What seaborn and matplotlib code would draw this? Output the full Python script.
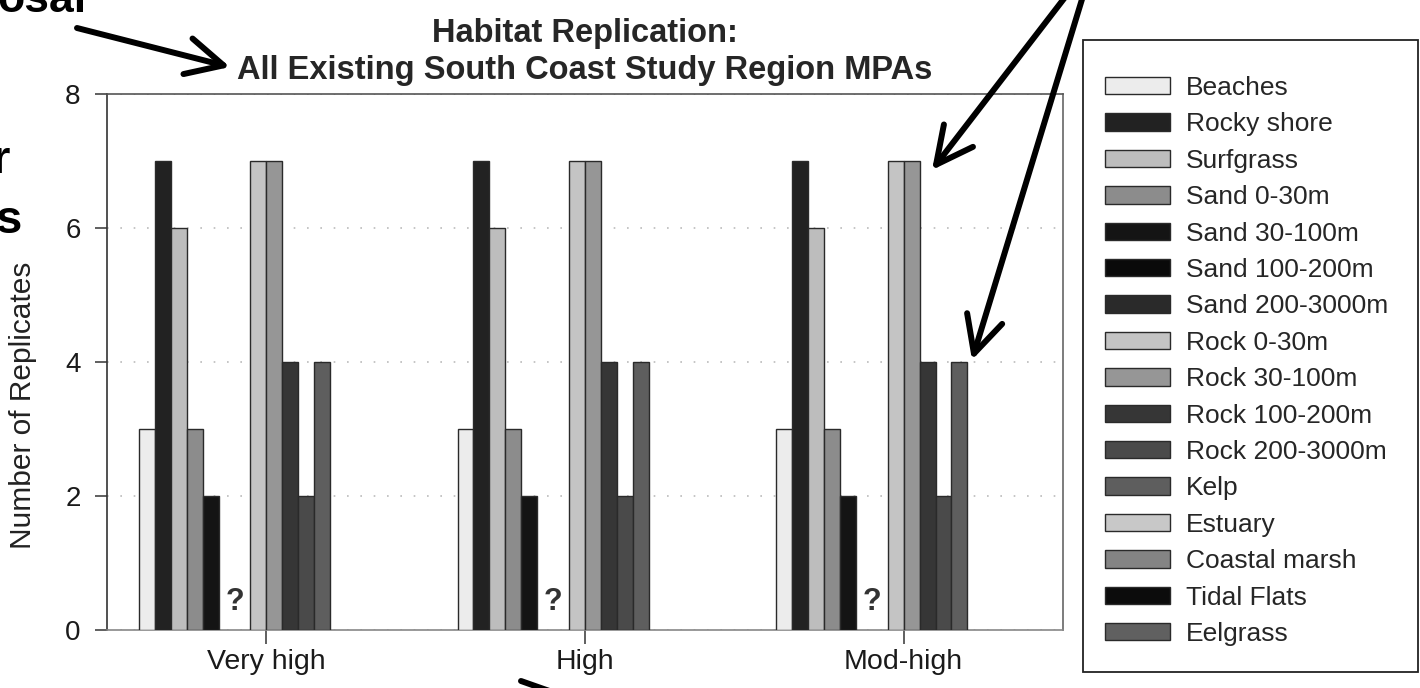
import numpy as np
import pandas as pd
import matplotlib
matplotlib.use("Agg")
import matplotlib.pyplot as plt
import seaborn as sns
from matplotlib.patches import FancyArrowPatch, Rectangle, ArrowStyle
from matplotlib.transforms import IdentityTransform

# -------------------------
# data
# -------------------------
categories = ["Very high", "High", "Mod-high"]
habitats = ["Beaches", "Rocky shore", "Surfgrass", "Sand 0-30m", "Sand 30-100m",
            "Sand 100-200m", "Sand 200-3000m", "Rock 0-30m", "Rock 30-100m",
            "Rock 100-200m", "Rock 200-3000m", "Kelp", "Estuary", "Coastal marsh",
            "Tidal Flats", "Eelgrass"]
replicates_very_high = [3, 7, 6, 3, 2, 0, 0, 7, 7, 4, 2, 4, 0, 0, 0, 0]
replicates_high = [3, 7, 6, 3, 2, 0, 0, 7, 7, 4, 2, 4, 0, 0, 0, 0]
replicates_mod_high = [3, 7, 6, 3, 2, 0, 0, 7, 7, 4, 2, 4, 0, 0, 0, 0]
unknown_habitats = ["Sand 100-200m", "Sand 200-3000m"]  # drawn as "?"
habitat_colors = ["#ececec", "#222222", "#bdbdbd", "#8c8c8c", "#141414",
                  "#0a0a0a", "#2a2a2a", "#c4c4c4", "#969696", "#363636",
                  "#4a4a4a", "#5e5e5e", "#c8c8c8", "#848484", "#0c0c0c", "#606060"]

df = pd.DataFrame({
    "category": np.repeat(categories, len(habitats)),
    "habitat": habitats * len(categories),
    "replicates": replicates_very_high + replicates_high + replicates_mod_high,
})

# -------------------------
# figure setup
# -------------------------
sns.set_style("white")
plt.rcParams["font.family"] = ["Liberation Sans", "DejaVu Sans"]

W, H = 1420, 688
fig = plt.figure(figsize=(W / 100, H / 100), dpi=100)
ax = fig.add_axes([107 / W, 58 / H, 956 / W, 536 / H])

sns.barplot(data=df, x="category", y="replicates", hue="habitat",
            order=categories, hue_order=habitats, palette=habitat_colors,
            saturation=1, width=0.8, errorbar=None, edgecolor="#2a2a2a",
            linewidth=1.0, ax=ax, zorder=3)

# zero bars should not draw an outline on the baseline
for p in ax.patches:
    if p.get_height() == 0:
        p.set_linewidth(0)

leg = ax.get_legend()
handles = leg.legend_handles
labels = [t.get_text() for t in leg.get_texts()]
leg.remove()

ax.set_xlim(-0.5, 2.5)
ax.set_ylim(0, 8)
ax.set_yticks([0, 2, 4, 6, 8])
ax.set_xlabel("")
ax.set_ylabel("Number of Replicates", fontsize=21.5, color="#222222")
ax.yaxis.set_label_coords(-0.073, 0.42)
ax.yaxis.grid(True, color="#bbbbbb", linestyle=(0, (1, 7)), linewidth=1.2, zorder=0)
ax.set_axisbelow(True)
ax.tick_params(axis="y", direction="out", length=9, width=1.2, color="#444444",
               labelsize=20, pad=10, left=True, labelcolor="#1a1a1a")
ax.tick_params(axis="x", direction="out", length=10, width=1.2, color="#444444",
               labelsize=20.5, pad=4, bottom=True, labelcolor="#1a1a1a")
for side, col in [("left", "#333333"), ("bottom", "#888888"),
                  ("top", "#555555"), ("right", "#666666")]:
    ax.spines[side].set_visible(True)
    ax.spines[side].set_color(col)
    ax.spines[side].set_linewidth(1.2)

# "?" over the habitats with unknown values
step = 0.8 / len(habitats)
offs = [(habitats.index(h) - (len(habitats) - 1) / 2) * step for h in unknown_habitats]
for i, cat in enumerate(categories):
    ax.text(i + np.mean(offs), 0.42, "?", ha="center", va="center",
            fontsize=22, fontweight="bold", color="#333333", zorder=4)

ax.set_title("Habitat Replication:\nAll Existing South Coast Study Region MPAs",
             fontsize=23.5, fontweight="bold", pad=11, linespacing=1.25)

# legend with its own square frame
fig.legend(handles, labels, loc="upper left",
           bbox_to_anchor=(1105 / W, 1 - 76 / H), frameon=False,
           fontsize=19, handlelength=2.46, handleheight=0.64,
           labelspacing=0.47, handletextpad=0.6, borderpad=0, borderaxespad=0)
fig.add_artist(Rectangle((1083, H - 672), 335, 632, transform=IdentityTransform(),
                         fill=False, edgecolor="#222222", linewidth=1.3))

# -------------------------
# leftovers from the slide: text fragments and arrows
# -------------------------
def px(x, y):
    return (x, H - y)

frag = dict(transform=IdentityTransform(), fontweight="bold", color="black")
fig.text(*px(-3, 12), "osal", fontsize=32, va="baseline", ha="left", **frag)
fig.text(*px(10, 173), "r", fontsize=34, va="baseline", ha="right", **frag)
fig.text(*px(22, 233), "s", fontsize=34, va="baseline", ha="right", **frag)

arrow_style = ArrowStyle("->", head_length=1.2, head_width=0.6)
for a, b in [((77, 28), (230, 67)), ((1066, -4), (932, 170)), ((1083, -4), (972, 360))]:
    fig.add_artist(FancyArrowPatch(px(*a), px(*b), transform=IdentityTransform(),
                                   arrowstyle=arrow_style, mutation_scale=22,
                                   linewidth=4.3, color="black",
                                   shrinkA=0, shrinkB=0))
fig.add_artist(FancyArrowPatch(px(521, 681), px(575, 700), transform=IdentityTransform(),
                               arrowstyle="-", linewidth=4.3, color="black",
                               shrinkA=0, shrinkB=0))

fig.savefig("out.png", dpi=100)
